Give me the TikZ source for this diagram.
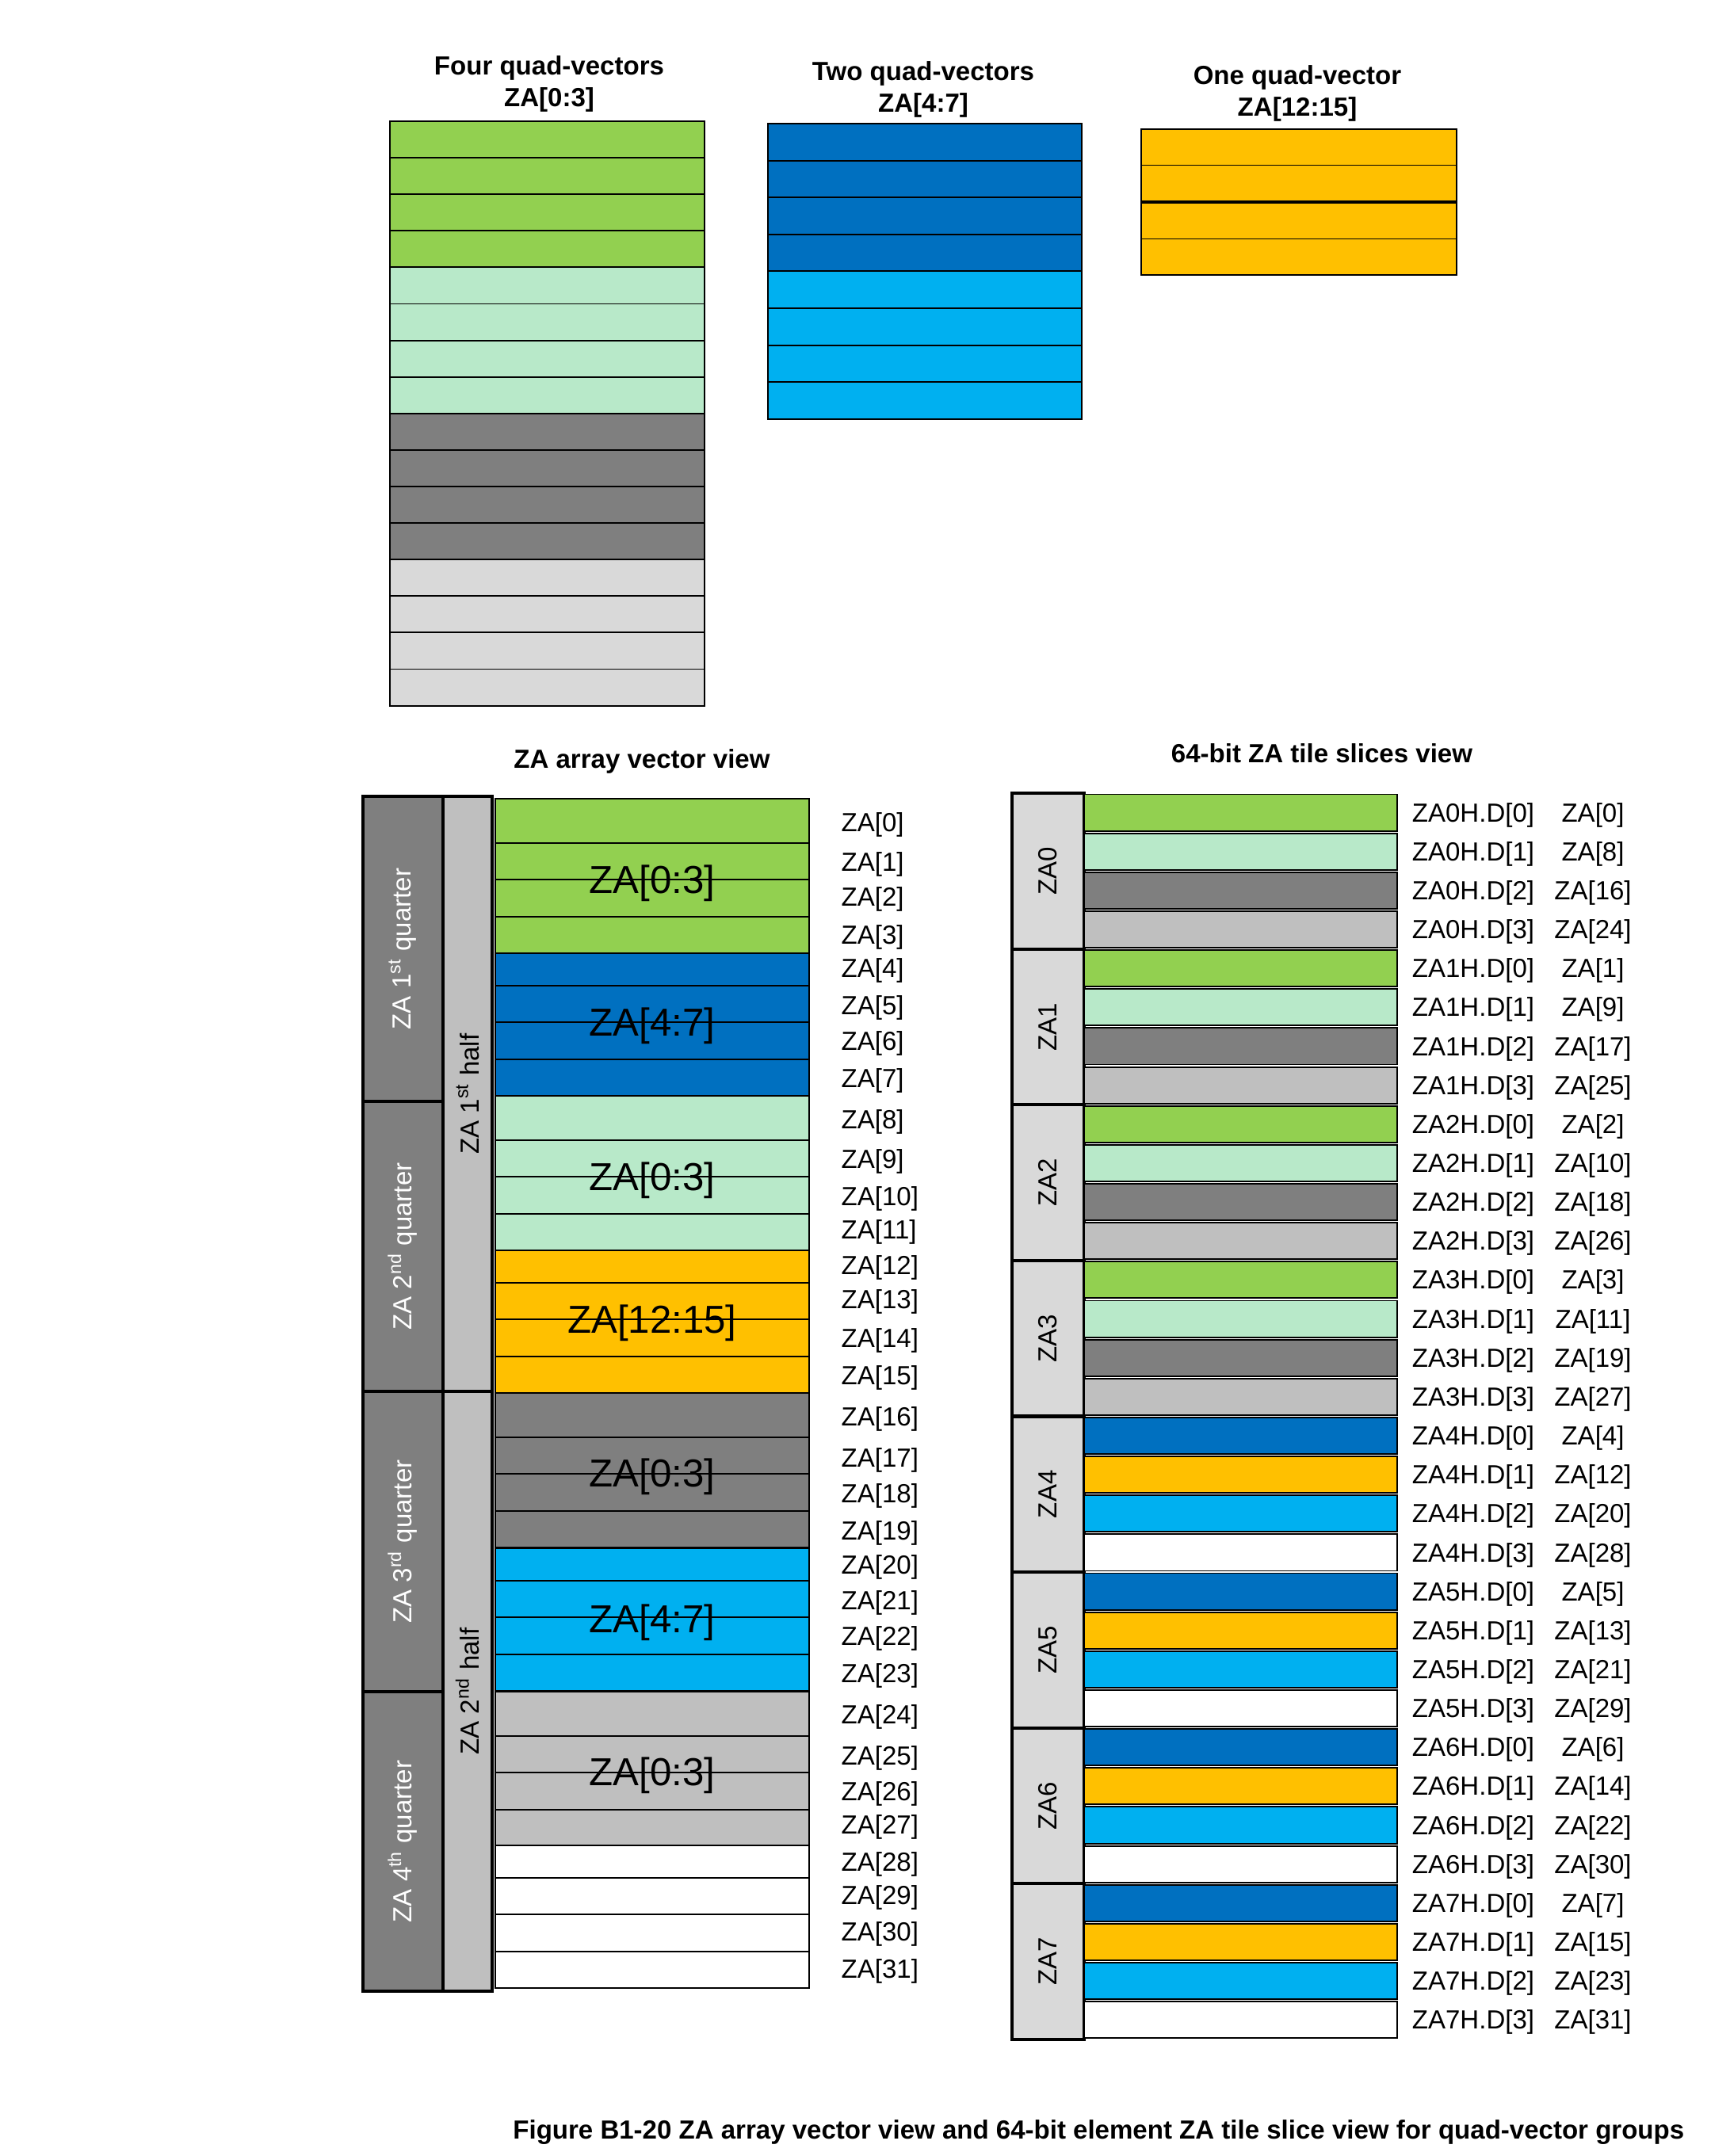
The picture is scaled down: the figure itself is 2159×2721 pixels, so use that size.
\documentclass[tikz,border=0pt]{standalone}
\usepackage{fontspec}
\setmainfont{Liberation Sans}

\definecolor{zagreen}{HTML}{92D050}
\definecolor{zamint}{HTML}{B8E9C9}
\definecolor{zadark}{HTML}{7F7F7F}
\definecolor{zasilver}{HTML}{BFBFBF}
\definecolor{zapale}{HTML}{D9D9D9}
\definecolor{zablue}{HTML}{0070C0}
\definecolor{zacyan}{HTML}{00B0F0}
\definecolor{zaorange}{HTML}{FFC000}

\tikzset{
  slot/.style={draw=black, line width=0.55pt},
  band/.style={draw=black, line width=1.2pt},
  lbl/.style={font=\fontsize{9.4}{11.3}\selectfont, inner sep=0pt},
  head/.style={font=\fontsize{9.4}{11.3}\selectfont\bfseries, align=center, inner sep=0pt},
  grp/.style={font=\fontsize{14}{16}\selectfont, inner sep=0pt}
}

\begin{document}
\begin{tikzpicture}[x=0.1mm,y=-0.1mm]
            \useasboundingbox (0,0) rectangle (2159,2721);

            % quad-vector groups
            \node[head] (four) at (693,106) {Four quad-vectors\\ZA[0:3]};
            \node[head] (two) at (1165,113) {Two quad-vectors\\ZA[4:7]};
            \node[head] (one) at (1637,118) {One quad-vector\\ZA[12:15]};
                 \foreach \col [count=\g from 0] in {zagreen,zamint,zadark,zapale}
                     \foreach \rw in {0,...,3}
                         \draw[slot,fill=\col] (492,153+\g*184.4+\rw*46.1) rectangle (889,199.1+\g*184.4+\rw*46.1);
                 \foreach \col [count=\g from 0] in {zablue,zacyan}
                     \foreach \rw in {0,...,3}
                         \draw[slot,fill=\col] (969,156+\g*186.4+\rw*46.6) rectangle (1365,202.6+\g*186.4+\rw*46.6);
                 \foreach \y in {163,208.5,256,301.5}
                     \draw[slot,fill=zaorange] (1440,\y) rectangle (1838,\y+45.5);

            % vector view
            \node[head] (vview) at (810,961) {ZA array vector view};
                 \foreach \g/\ytop/\first/\col in {0/1008/56/zagreen,1/1203/41/zablue,2/1383/56/zamint,3/1578/41/zaorange,
                                                   4/1758/56/zadark,5/1954/41/zacyan,6/2135/56/zasilver,7/2329/41/white}
                 {
                     \draw[slot,fill=\col] (625,\ytop) rectangle (1021,\ytop+\first);
                     \foreach \rw in {0,1,2}
                         \draw[slot,fill=\col] (625,\ytop+\first+\rw*46.3) rectangle (1021,\ytop+\first+\rw*46.3+46.3);
                 }
                 \foreach \g/\y/\txt in {0/1115/{ZA[0:3]},1/1295/{ZA[4:7]},2/1490/{ZA[0:3]},3/1670/{ZA[12:15]},
                                         4/1864/{ZA[0:3]},5/2048/{ZA[4:7]},6/2241/{ZA[0:3]}}
                     \node[grp] (big\g) at (823,\y) {\txt};
                 \foreach \idx/\y in {0/1041,1/1091,2/1135,3/1183,4/1225,5/1272,6/1317,7/1364,
                                      8/1416,9/1466,10/1513,11/1555,12/1600,13/1643,14/1692,15/1739,
                                      16/1791,17/1843,18/1888,19/1935,20/1978,21/2023,22/2068,23/2115,
                                      24/2167,25/2219,26/2264,27/2306,28/2353,29/2395,30/2441,31/2488}
                     \node[lbl,anchor=west] (za\idx) at (1061,\y) {ZA[\idx]};
             % quarters and halves
                 \foreach \q/\ya/\yb/\suf in {1/1005/1390/st,2/1390/1756/nd,3/1756/2135/rd,4/2135/2513/th}
                 {
                     \draw[band,fill=zadark] (458,\ya) rectangle (559,\yb);
                     \node[lbl,text=white,rotate=90] (quarter\q) at (508,{(\ya+\yb)/2}) {ZA \q\textsuperscript{\suf} quarter};
                 }
                 \foreach \h/\ya/\yb/\suf in {1/1005/1756/st,2/1756/2513/nd}
                 {
                     \draw[band,fill=zasilver] (559,\ya) rectangle (621,\yb);
                     \node[lbl,rotate=90] (half\h) at (590,{(\ya+\yb)/2}) {ZA \h\textsuperscript{\suf} half};
                 }

            % tile slices view
            \node[head] (tview) at (1668,951) {64-bit ZA tile slices view};
                 \foreach \tn in {0,...,7}
                 {
                     \pgfmathsetmacro{\ya}{1001+\tn*196.6}
                     \draw[band,fill=zapale] (1277,\ya) rectangle (1368,\ya+196.6);
                     \node[lbl,rotate=90] (tile\tn) at (1322,\ya+98.3) {ZA\tn};
                     \foreach \rw in {0,...,3}
                     {
                         \pgfmathsetmacro{\yr}{\ya+\rw*49.15}
                         \pgfmathtruncatemacro{\k}{\rw+4*(\tn>3)}
                         \pgfmathtruncatemacro{\idx}{\tn+8*\rw}
                         \pgfmathsetmacro{\col}{{"zagreen","zamint","zadark","zasilver","zablue","zaorange","zacyan","white"}[\k]}
                         \draw[slot,fill=\col] (1368,\yr+1.5) rectangle (1763,\yr+47.6);
                         \node[lbl] (slice\tn\rw) at (1859,\yr+27.6) {ZA\tn H.D[\rw]};
                         \node[lbl] (elem\tn\rw) at (2010,\yr+27.6) {ZA[\idx]};
                     }
                 }

            \node[head,anchor=east] (caption) at (2126,2691) {Figure B1-20 ZA array vector view and 64-bit element ZA tile slice view for quad-vector groups};
\end{tikzpicture}
\end{document}
